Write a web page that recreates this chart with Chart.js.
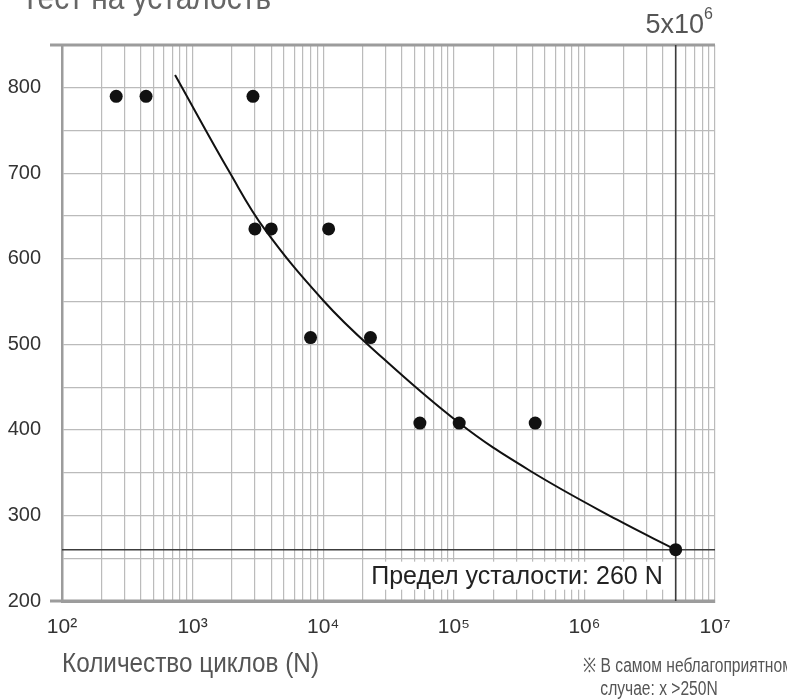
<!DOCTYPE html>
<html>
<head>
<meta charset="utf-8">
<script src="https://cdn.jsdelivr.net/npm/chart.js@4/dist/chart.umd.min.js"></script>
<style>
  body { margin: 0; background: #fff; }
  #wrap { position: relative; width: 787px; height: 699px; overflow: hidden;
    font-family: "Liberation Sans", Arial, sans-serif; }
  #chart { position: absolute; left: 0; top: 0; }
  .txt { position: absolute; white-space: nowrap; color: #555; transform-origin: 0 0; }
  #title { left: 21px; top: -20px; font-size: 34px; line-height: 34px; color: #666; transform: scaleX(0.88); }
  #xtitle { left: 62px; top: 650px; font-size: 27px; line-height: 27px; transform: scaleX(0.9); }
  #note { left: 583px; top: 654px; font-size: 20px; line-height: 23px; transform: scaleX(0.78); }
</style>
</head>
<body>
<div id="wrap">
  <canvas id="chart" width="787" height="699"></canvas>
  <div class="txt" id="title">Тест на усталость</div>
  <div class="txt" id="xtitle">Количество циклов (N)</div>
  <div class="txt" id="note">※ В самом неблагоприятном<br>&nbsp;&nbsp;&nbsp;&nbsp;случае: x &gt;250N</div>
</div>
<script>
// measured test points
const testCycles = [260, 440, 2900, 3000, 4000, 11000, 8000, 23000, 55000, 110000, 420000, 5000000];
const testLoads = [790, 790, 790, 635, 635, 635, 508, 508, 408, 408, 408, 260];

// S-N curve
const curveCycles = [734, 1940, 3550, 10050, 23000, 110000, 386000, 1780000, 5000000];
const curveLoads = [815, 700, 635, 551, 497, 408, 352, 295, 260];

// fatigue limit
const limitLoad = 260;
const limitCycles = 5000000;
const limitText = "Предел усталости: 260 N";

// axes
const xDecades = [100, 1000, 10000, 100000, 1000000, 10000000];
const xTickLabels = ["10²", "10³", "10⁴", "10⁵", "10⁶", "10⁷"];
const yMin = 200;
const yMax = 850;

const FONT = '"Liberation Sans", Arial, sans-serif';

const gridTicks = [];
xDecades.forEach((d, i) => {
  if (i === xDecades.length - 1) {
    gridTicks.push({ value: d });
    return;
  }
  for (let m = 1; m <= 9; m++) gridTicks.push({ value: d * m });
});

function drawText(ctx, text, x, y, size, align) {
  ctx.font = size + "px " + FONT;
  ctx.textAlign = align;
  ctx.textBaseline = "alphabetic";
  ctx.fillText(text, x, y);
}

const refLines = {
  id: "refLines",
  beforeDatasetsDraw(chart) {
    const { ctx, chartArea: a, scales: { x, y } } = chart;
    ctx.save();

    // frame lines top and bottom
    ctx.strokeStyle = "#9c9c9c";
    ctx.lineWidth = 3;
    ctx.beginPath();
    ctx.moveTo(a.left - 12, a.top);
    ctx.lineTo(a.right, a.top);
    ctx.moveTo(a.left - 12, a.bottom);
    ctx.lineTo(a.right, a.bottom);
    ctx.stroke();

    // label box
    const lx = x.getPixelForValue(limitCycles);
    const ly = y.getPixelForValue(limitLoad);
    const tx = lx - 13;
    const ty = ly + 34;
    ctx.font = "25px " + FONT;
    const w = ctx.measureText(limitText).width;
    ctx.fillStyle = "#fff";
    ctx.fillRect(tx - w - 3, ty - 22, w + 6, 28);
    ctx.fillStyle = "#222";
    drawText(ctx, limitText, tx, ty, 25, "right");

    // fatigue limit lines
    ctx.strokeStyle = "#3c3c3c";
    ctx.lineWidth = 1.6;
    ctx.beginPath();
    ctx.moveTo(lx, a.top);
    ctx.lineTo(lx, a.bottom);
    ctx.moveTo(a.left, ly);
    ctx.lineTo(a.right, ly);
    ctx.stroke();

    // 5x10^6 label above the chart
    ctx.fillStyle = "#555";
    ctx.font = "16px " + FONT;
    const sw = ctx.measureText("6").width;
    const rx = a.right - 2;
    drawText(ctx, "5x10", rx - sw, a.top - 12, 27, "right");
    drawText(ctx, "6", rx - sw, a.top - 26, 16, "left");

    ctx.restore();
  },
};

new Chart(document.getElementById("chart"), {
  type: "scatter",
  data: {
    datasets: [
      {
        label: "S-N",
        data: curveCycles.map((c, i) => ({ x: c, y: curveLoads[i] })),
        showLine: true,
        borderColor: "#111",
        borderWidth: 2,
        pointRadius: 0,
        tension: 0.4,
        order: 2,
      },
      {
        label: "tests",
        data: testCycles.map((c, i) => ({ x: c, y: testLoads[i] })),
        backgroundColor: "#111",
        borderWidth: 0,
        pointRadius: 6.5,
        order: 1,
      },
    ],
  },
  options: {
    responsive: false,
    animation: false,
    layout: { padding: { top: 45, right: 72, left: 0, bottom: 0 } },
    plugins: { legend: { display: false }, tooltip: { enabled: false } },
    scales: {
      x: {
        type: "logarithmic",
        min: xDecades[0],
        max: xDecades[xDecades.length - 1],
        afterBuildTicks: (scale) => { scale.ticks = gridTicks.map((t) => ({ ...t })); },
        afterFit: (scale) => { scale.height = 98; },
        border: { display: true, color: "#9c9c9c", width: 3 },
        grid: { color: "#bbbbbb", lineWidth: 1.2, drawTicks: false },
        ticks: {
          autoSkip: false,
          maxRotation: 0,
          padding: 14,
          color: "#333",
          font: { family: FONT, size: 21 },
          callback: (v) => {
            const i = xDecades.indexOf(v);
            return i >= 0 ? xTickLabels[i] : "";
          },
        },
      },
      y: {
        min: yMin,
        max: yMax,
        afterFit: (scale) => { scale.width = 62; },
        border: { display: true, color: "#9c9c9c", width: 2.5 },
        grid: { color: "#bbbbbb", lineWidth: 1.2, drawTicks: false },
        ticks: {
          stepSize: 50,
          padding: 21,
          color: "#333",
          font: { family: FONT, size: 20 },
          callback: (v) => (v % 100 === 0 ? v : ""),
        },
      },
    },
  },
  plugins: [refLines],
});
</script>
</body>
</html>
